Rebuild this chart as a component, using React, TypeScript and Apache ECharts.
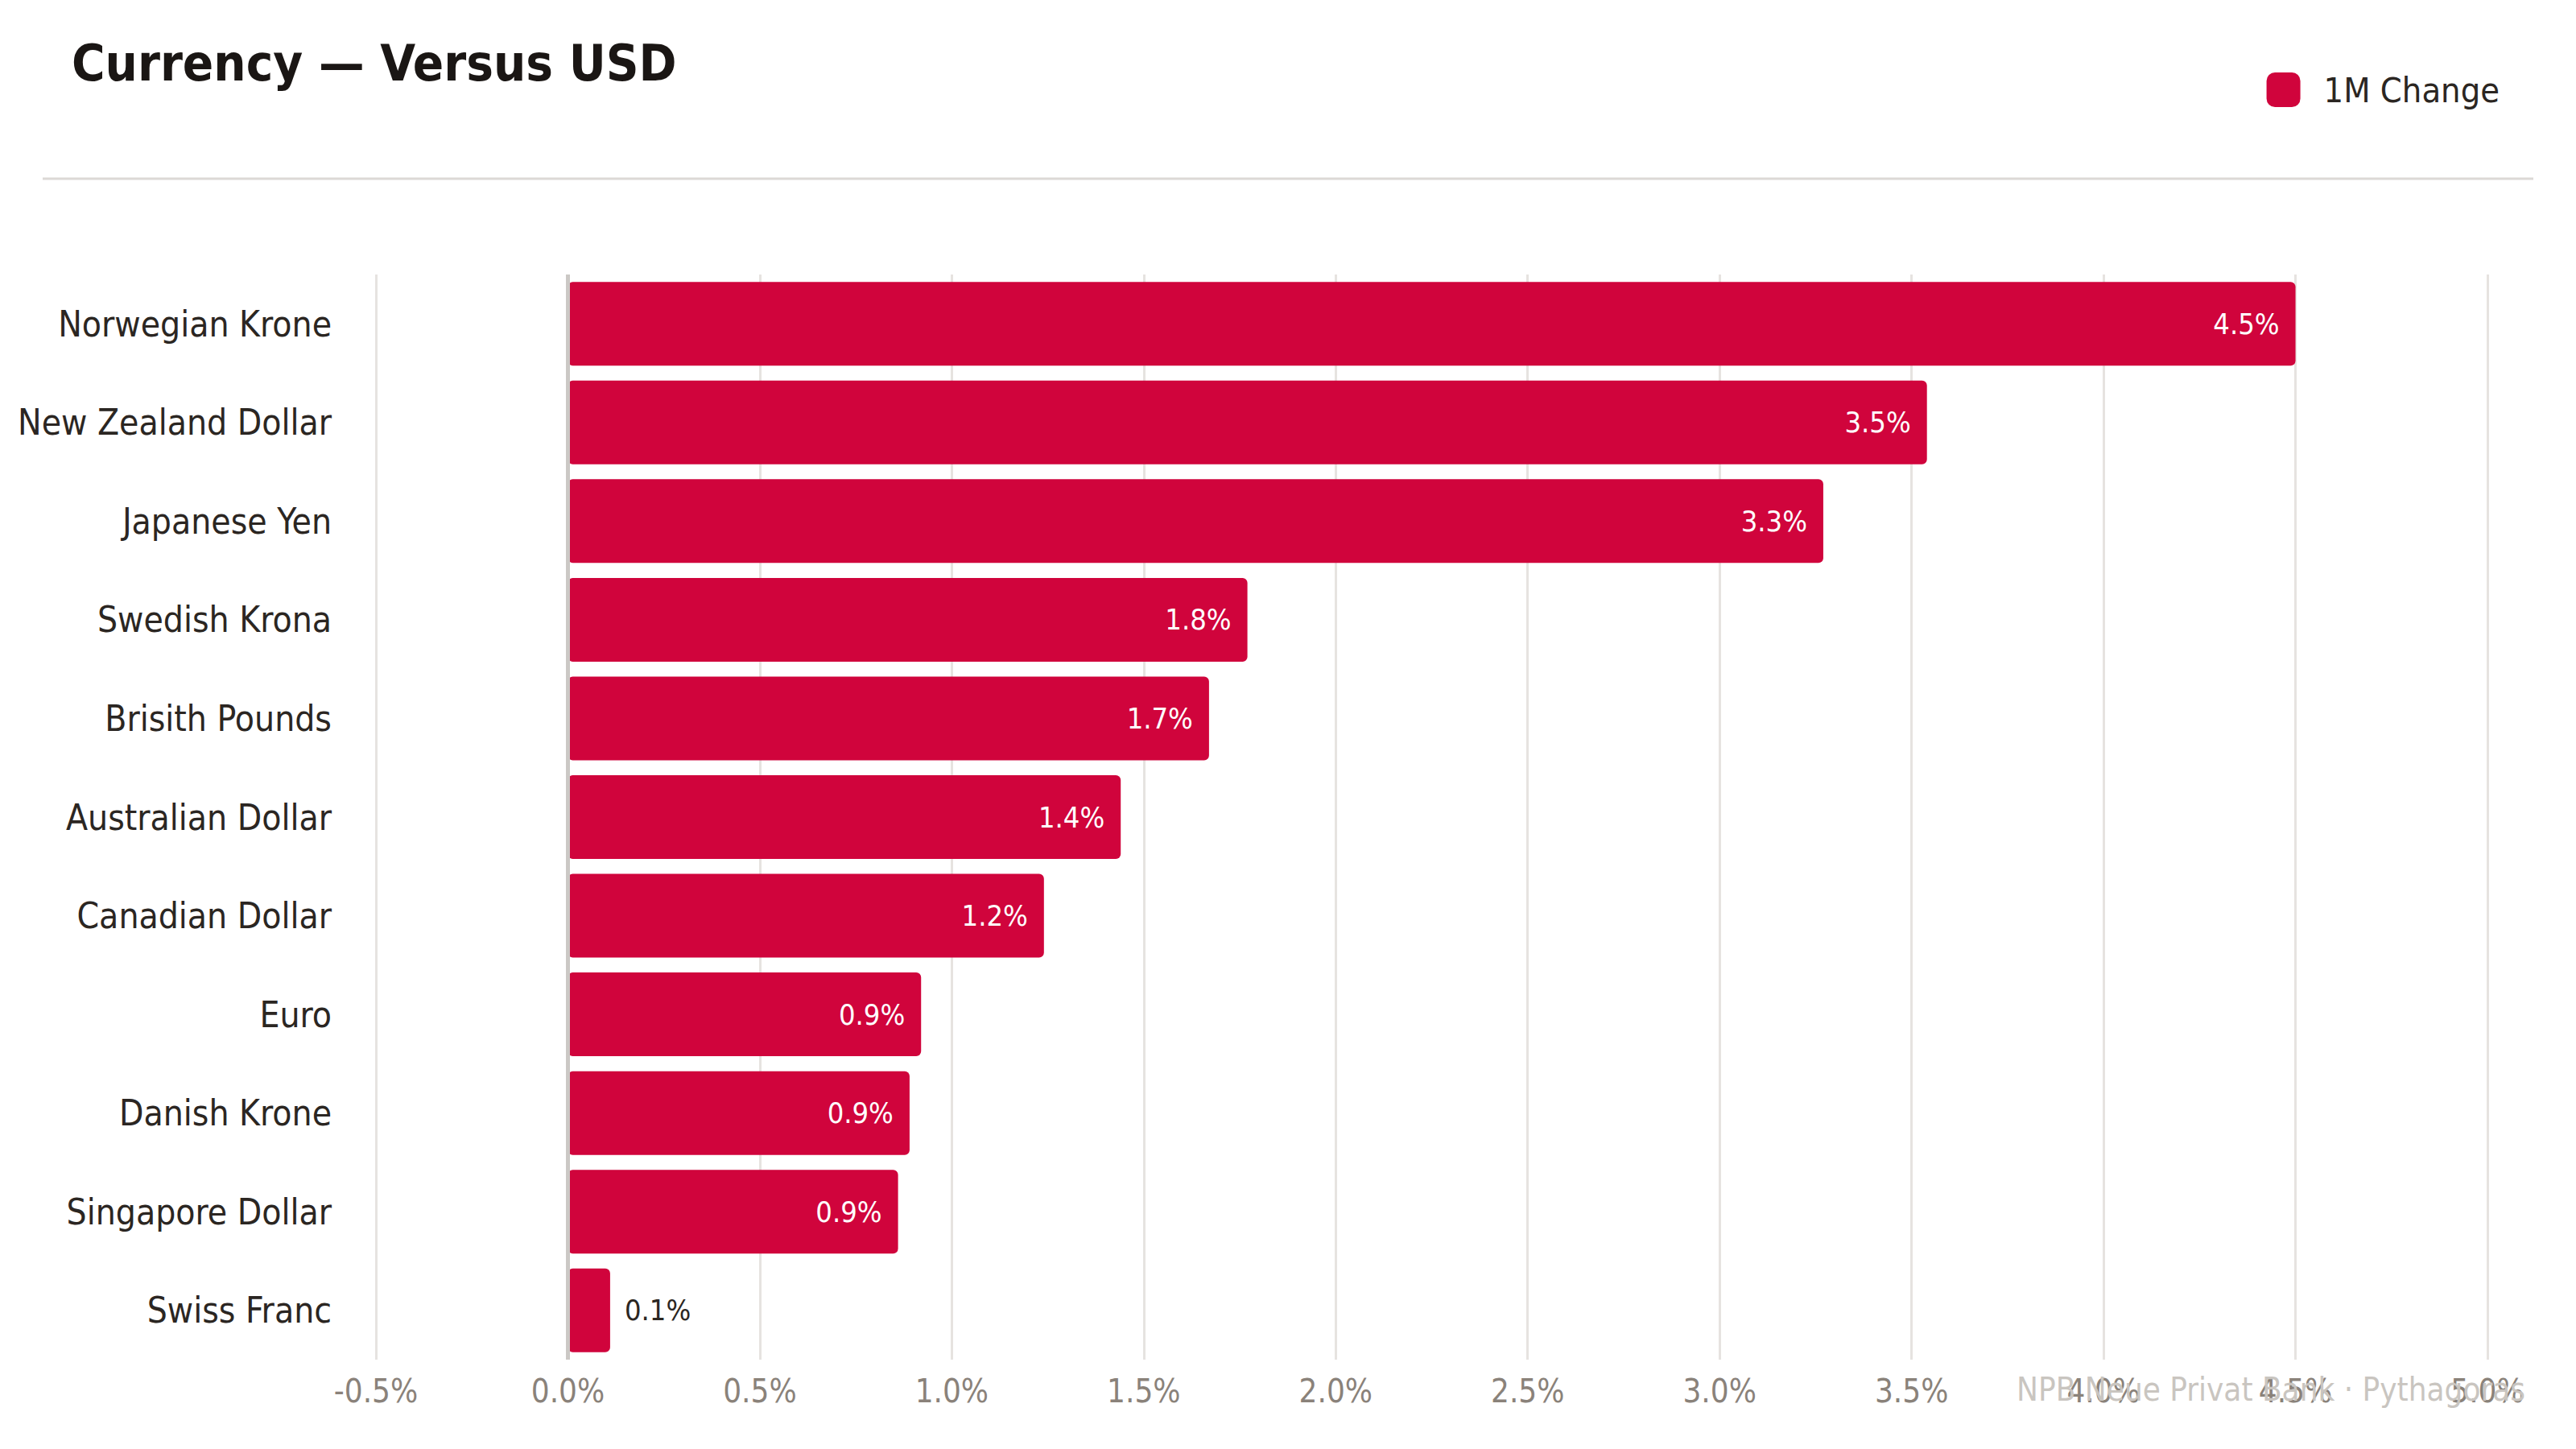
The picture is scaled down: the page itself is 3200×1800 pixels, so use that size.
import React, { useEffect, useRef } from "react";
import * as echarts from "echarts";

const categories = [
  "Norwegian Krone",
  "New Zealand Dollar",
  "Japanese Yen",
  "Swedish Krona",
  "Brisith Pounds",
  "Australian Dollar",
  "Canadian Dollar",
  "Euro",
  "Danish Krone",
  "Singapore Dollar",
  "Swiss Franc",
];
const changeValues = [4.5, 3.54, 3.27, 1.77, 1.67, 1.44, 1.24, 0.92, 0.89, 0.86, 0.11];
const seriesName = "1M Change";
const titleText = "Currency \u2014 Versus USD";
const footerText = "NPB Neue Privat Bank \u00b7 Pythagoras";

const FONT = '"Liberation Sans Narrow", "DejaVu Sans Condensed", Roboto, sans-serif';
const RED = "#d0043c";

export default function App() {
  const ref = useRef<HTMLDivElement>(null);
  useEffect(() => {
    document.body.style.margin = "0";
    const chart = echarts.init(ref.current!, null, { renderer: "svg" });
    chart.setOption({
      animation: false,
      backgroundColor: "#ffffff",
      textStyle: { fontFamily: FONT },
      title: {
        text: titleText,
        left: 84,
        top: 42,
        textStyle: { fontFamily: FONT, fontSize: 63, fontWeight: "bold", color: "#1a1614" },
      },
      legend: {
        data: [seriesName],
        right: 90,
        top: 85,
        icon: "roundRect",
        itemWidth: 42,
        itemHeight: 43,
        itemGap: 20,
        textStyle: { fontFamily: FONT, fontSize: 43, color: "#2b2622", padding: [0, 0, 0, 24] },
      },
      grid: { left: 467, right: 110, top: 341, bottom: 111, containLabel: false },
      xAxis: {
        type: "value",
        min: -0.5,
        max: 5,
        interval: 0.5,
        axisLine: { show: false },
        axisTick: { show: false },
        splitLine: { show: true, lineStyle: { color: "#e6e3e0", width: 3 } },
        axisLabel: {
          fontFamily: FONT,
          fontSize: 40,
          color: "#8a827a",
          margin: 19,
          formatter: (v: number) => v.toFixed(1) + "%",
        },
      },
      yAxis: {
        type: "category",
        inverse: true,
        data: categories,
        axisLine: { show: false },
        axisTick: { show: false },
        splitLine: { show: false },
        axisLabel: { fontFamily: FONT, fontSize: 44, color: "#2b2622", margin: 55 },
      },
      graphic: [
        {
          type: "line",
          shape: { x1: 53, y1: 222, x2: 3147, y2: 222 },
          style: { stroke: "#dcd9d6", lineWidth: 3 },
        },
        {
          type: "text",
          x: 3137,
          y: 1726,
          style: {
            text: footerText,
            fontFamily: FONT,
            fontSize: 40,
            fill: "#c9c5c0",
            align: "right",
            verticalAlign: "middle",
          },
          z: 100,
        },
      ],
      series: [
        {
          name: "zero",
          type: "line",
          data: [],
          z: 1,
          silent: true,
          markLine: {
            silent: true,
            symbol: ["none", "none"],
            label: { show: false },
            lineStyle: { color: "#cbc8c5", width: 5, type: "solid" },
            data: [{ xAxis: 0 }],
          },
        },
        {
          name: seriesName,
          type: "bar",
          z: 2,
          barWidth: 104,
          itemStyle: { color: RED, borderRadius: 6 },
          data: changeValues.map((v) => ({
            value: v,
            label:
              v < 0.3
                ? { position: "right", color: "#2b2622", distance: 18 }
                : { position: "insideRight", color: "#ffffff", distance: 20 },
          })),
          label: {
            show: true,
            fontFamily: FONT,
            fontSize: 36,
            formatter: (p: any) => Number(p.value).toFixed(1) + "%",
          },
        },
      ],
    });
    return () => chart.dispose();
  }, []);
  return <div ref={ref} style={{ width: 3200, height: 1800 }} />;
}
